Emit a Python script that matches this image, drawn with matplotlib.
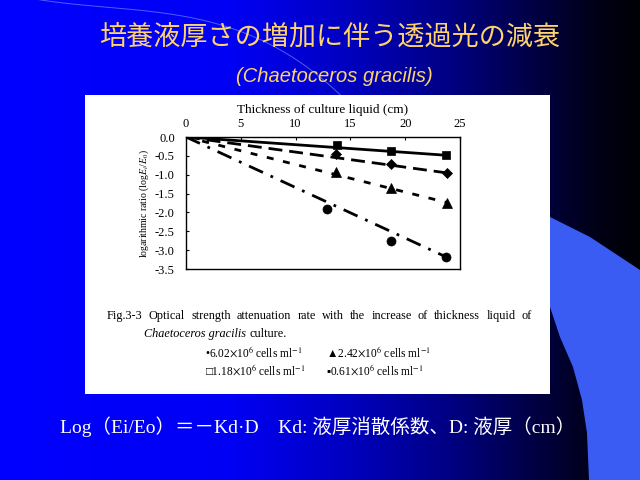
import numpy as np
import matplotlib

matplotlib.use("Agg")
import matplotlib.pyplot as plt
from matplotlib.patches import Rectangle, Polygon

plt.rcParams["mathtext.fontset"] = "stix"

# measured points (thickness in cm, log(Ei/Eo))
x_602 = [12.9, 18.7, 23.7]
y_602 = [-1.92, -2.75, -3.19]
x_242 = [13.7, 18.7, 23.8]
y_242 = [-0.93, -1.35, -1.74]
x_118 = [13.7, 18.7, 23.8]
y_118 = [-0.46, -0.72, -0.95]
x_061 = [13.8, 18.7, 23.7]
y_061 = [-0.22, -0.38, -0.485]

# extinction coefficients Kd for the fitted lines through the origin
kd_602 = 0.134
kd_242 = 0.073
kd_118 = 0.040
kd_061 = 0.0204
line_end = 23.8

x_ticks = [0, 5, 10, 15, 20, 25]
y_ticks = [0.0, -0.5, -1.0, -1.5, -2.0, -2.5, -3.0, -3.5]

caption = "Fig.3-3 Optical strength attenuation rate with the increase of thickness liquid of"
legend_labels = [
    r"•6.02$\times$10$^6$ cells ml$^{-1}$",
    r"▲2.42$\times$10$^6$ cells ml$^{-1}$",
    r"□1.18$\times$10$^6$ cells ml$^{-1}$",
    r"▪0.61$\times$10$^6$ cells ml$^{-1}$",
]

W, H = 640, 480
fig = plt.figure(figsize=(6.4, 4.8), dpi=100)

# ---- slide background
bg = fig.add_axes([0, 0, 1, 1])
bg.set_xlim(0, W)
bg.set_ylim(H, 0)
bg.axis("off")

cols = np.arange(W)
blue = np.interp(cols, [0, 230, 350, 450, 530, 600, 640], [255, 245, 190, 130, 70, 20, 5])
grad = np.zeros((1, W, 3))
grad[0, :, 2] = blue / 255.0
bg.imshow(grad, extent=(0, W, H, 0), aspect="auto", zorder=0)

# faint arc top-left
arc_pts_x = [41, 163, 261, 335]
arc_pts_y = [0, 13, 40, 90]
coef = np.polyfit(arc_pts_x, arc_pts_y, 3)
arc_x = np.linspace(20, 360, 200)
bg.plot(arc_x, np.polyval(coef, arc_x), color="#6a88ff", lw=0.7, alpha=0.7, zorder=1)

# lighter shape lower right
shape = [(500, 195), (550, 217), (590, 237), (640, 270), (640, 480), (589, 480),
         (587, 433), (582, 400), (573, 367), (560, 337), (550, 307), (520, 270)]
bg.add_patch(Polygon(shape, closed=True, facecolor="#3b5cf2", edgecolor="none", zorder=1))

# white panel
bg.add_patch(Rectangle((85, 95), 465, 299, facecolor="white", edgecolor="none", zorder=2))

# titles
bg.text(330, 37, "培養液厚さの増加に伴う透過光の減衰", color="#ffd36b", fontsize=19.5,
        family=["Noto Sans CJK JP"], ha="center", va="center", zorder=3)
bg.text(334, 76, "(Chaetoceros gracilis)", color="#ffd36b", fontsize=14.5,
        family=["Liberation Sans"], style="italic", ha="center", va="center", zorder=3)

# caption, justified between two edges
serif = ["Liberation Serif", "DejaVu Serif"]
renderer = fig.canvas.get_renderer()
words = caption.split()
word_texts = [bg.text(0, 316, w, fontsize=8.8, family=serif, ha="left", va="center", zorder=3)
              for w in words]
widths = [t.get_window_extent(renderer).width for t in word_texts]
left, right = 107, 532
gap = (right - left - sum(widths)) / (len(words) - 1)
pos = left
for t, w in zip(word_texts, widths):
    t.set_x(pos)
    pos += w + gap

species = bg.text(144, 334, "Chaetoceros gracilis", fontsize=8.8, family=serif, style="italic",
                  ha="left", va="center", zorder=3)
sp_w = species.get_window_extent(renderer).width
bg.text(144 + sp_w + 3, 334, "culture.", fontsize=8.8, family=serif,
        ha="left", va="center", zorder=3)

legend_pos = [(205, 352), (326, 352), (205, 370), (326, 370)]
for (lx, ly), lab in zip(legend_pos, legend_labels):
    bg.text(lx, ly, lab, fontsize=8.3, family=serif, ha="left", va="center", zorder=3)

# formula line
bg.text(60, 427, "Log（Ei/Eo）＝－Kd·D　Kd: 液厚消散係数、D: 液厚（cm）", color="white",
        fontsize=14, family=["Liberation Serif", "Noto Sans CJK JP"], ha="left", va="center", zorder=3)

# ---- chart
ax = fig.add_axes([186 / W, 1 - 269 / H, 274 / W, 132 / H])
ax.set_xlim(0, 25)
ax.set_ylim(-3.5, 0)

ax.plot([0, line_end], [0, -kd_061 * line_end], color="black", lw=2.0, solid_capstyle="butt")
ax.plot([0, line_end], [0, -kd_118 * line_end], color="black", lw=2.0, dashes=(5, 2.5))
ax.plot([0, line_end], [0, -kd_242 * line_end], color="black", lw=2.0, dashes=(2.5, 3.5))
ax.plot([0, line_end], [0, -kd_602 * line_end], color="black", lw=2.0, dashes=(5.5, 3, 1, 3))

ax.plot(x_061, y_061, "s", color="black", ms=6, mew=0.5)
ax.plot(x_118, y_118, "D", color="black", ms=5, mew=0.5)
ax.plot(x_242, y_242, "^", color="black", ms=6.5, mew=0.5)
ax.plot(x_602, y_602, "o", color="black", ms=6.5, mew=0.5)

ax.xaxis.tick_top()
ax.xaxis.set_label_position("top")
ax.set_xticks(x_ticks)
ax.set_yticks(y_ticks)
ax.set_yticklabels([f"{v:.1f}" for v in y_ticks])
ax.tick_params(direction="in", length=2.5, width=0.8, labelsize=9, pad=5)
ax.tick_params(axis="y", pad=8)
for lab in ax.get_xticklabels() + ax.get_yticklabels():
    lab.set_family(serif)
ax.set_xlabel("Thickness of culture liquid (cm)", fontsize=9.5, family=serif, labelpad=4)
ax.set_ylabel(r"logarithmic ratio (log$E_i$/$E_0$)", fontsize=7, family=serif, labelpad=3)
for s in ax.spines.values():
    s.set_linewidth(1.0)

fig.savefig("out.png", dpi=100)
